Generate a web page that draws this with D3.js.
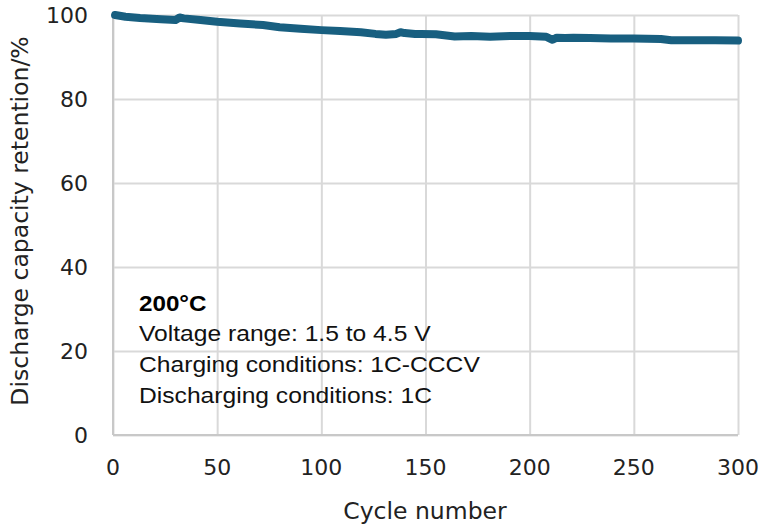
<!DOCTYPE html>
<html>
<head>
<meta charset="utf-8">
<script src="https://cdn.jsdelivr.net/npm/d3@7"></script>
<style>
  html, body { margin: 0; padding: 0; background: #fff; }
  svg { display: block; }
</style>
</head>
<body>
<svg id="chart" width="761" height="524"></svg>
<script>
// cycle number vs discharge capacity retention (%)
const cycles = [1, 6, 13, 23, 30, 32, 34, 42, 50, 61, 72, 80, 90, 100, 109, 119, 126, 131, 136, 138, 140, 145, 148, 155, 164, 172, 181, 191, 200, 208, 211, 213, 217, 221, 229, 239, 250, 263, 268, 277, 289, 300]
const retention = [100, 99.6, 99.3, 99.0, 98.8, 99.4, 99.2, 98.8, 98.4, 98.0, 97.6, 97.1, 96.7, 96.4, 96.2, 95.9, 95.5, 95.3, 95.5, 95.9, 95.7, 95.5, 95.5, 95.4, 94.9, 95.0, 94.8, 95.0, 95.0, 94.8, 94.1, 94.6, 94.5, 94.6, 94.5, 94.4, 94.4, 94.3, 94.0, 94.0, 94.0, 93.9]

const xTicks = [0, 50, 100, 150, 200, 250, 300]
const yTicks = [0, 20, 40, 60, 80, 100]
const notes = ['Voltage range: 1.5 to 4.5 V', 'Charging conditions: 1C-CCCV', 'Discharging conditions: 1C']

const svg = d3.select('#chart')
const m = {left: 113, right: 738, top: 15, bottom: 435}

const x = d3.scaleLinear().domain([0, 300]).range([m.left, m.right])
const y = d3.scaleLinear().domain([0, 100]).range([m.bottom, m.top])

const data = cycles.map((c, i) => ({c, v: retention[i]}))

// grid
svg.append('g')
	.attr('transform', `translate(0,${m.bottom})`)
	.call(d3.axisBottom(x).tickValues(xTicks).tickSize(-(m.bottom - m.top)).tickFormat(''))
	.call(g => g.select('.domain').remove())
	.call(g => g.selectAll('line').attr('stroke', '#d9d9d9').attr('stroke-width', 2))

svg.append('g')
	.attr('transform', `translate(${m.left},0)`)
	.call(d3.axisLeft(y).tickValues(yTicks).tickSize(-(m.right - m.left)).tickFormat(''))
	.call(g => g.select('.domain').remove())
	.call(g => g.selectAll('line').attr('stroke', '#d9d9d9').attr('stroke-width', 2))

// axis lines
svg.append('line').attr('x1', m.left).attr('x2', m.left).attr('y1', m.top).attr('y2', m.bottom)
	.attr('stroke', '#c8c8c8').attr('stroke-width', 2)
svg.append('line').attr('x1', m.left).attr('x2', m.right).attr('y1', m.bottom).attr('y2', m.bottom)
	.attr('stroke', '#c8c8c8').attr('stroke-width', 2)

// tick labels
svg.append('g').selectAll('text').data(xTicks).join('text')
	.attr('x', d => x(d)).attr('y', 475)
	.attr('text-anchor', 'middle')
	.attr('font-family', 'DejaVu Sans').attr('font-size', 22).attr('fill', '#222')
	.text(d => d)

svg.append('g').selectAll('text').data(yTicks).join('text')
	.attr('x', 88).attr('y', d => y(d))
	.attr('dy', '0.36em')
	.attr('text-anchor', 'end')
	.attr('font-family', 'DejaVu Sans').attr('font-size', 22).attr('fill', '#222')
	.text(d => d)

// titles
svg.append('text')
	.attr('x', 425).attr('y', 519)
	.attr('text-anchor', 'middle')
	.attr('font-family', 'DejaVu Sans').attr('font-size', 23.5).attr('fill', '#222')
	.text('Cycle number')

svg.append('text')
	.attr('transform', 'translate(28,221) rotate(-90)')
	.attr('text-anchor', 'middle')
	.attr('font-family', 'DejaVu Sans').attr('font-size', 23.5).attr('fill', '#222')
	.text('Discharge capacity retention/%')

// series
const line = d3.line().x(d => x(d.c)).y(d => y(d.v))
svg.append('path')
	.datum(data)
	.attr('d', line)
	.attr('fill', 'none')
	.attr('stroke', '#185f80')
	.attr('stroke-width', 8)
	.attr('stroke-linejoin', 'round')
	.attr('stroke-linecap', 'round')

// annotation (reference text is drawn a little wide, so stretch it)
svg.append('text')
	.attr('transform', 'translate(139,311) scale(1.1,1)')
	.attr('font-family', 'Liberation Sans, Arial').attr('font-size', 22).attr('font-weight', 'bold').attr('fill', '#000')
	.text('200°C')

svg.append('g').selectAll('text').data(notes).join('text')
	.attr('transform', (d, i) => `translate(139,${341 + i * 31}) scale(1.12,1)`)
	.attr('font-family', 'Liberation Sans, Arial').attr('font-size', 22).attr('fill', '#111')
	.text(d => d)
</script>
</body>
</html>
